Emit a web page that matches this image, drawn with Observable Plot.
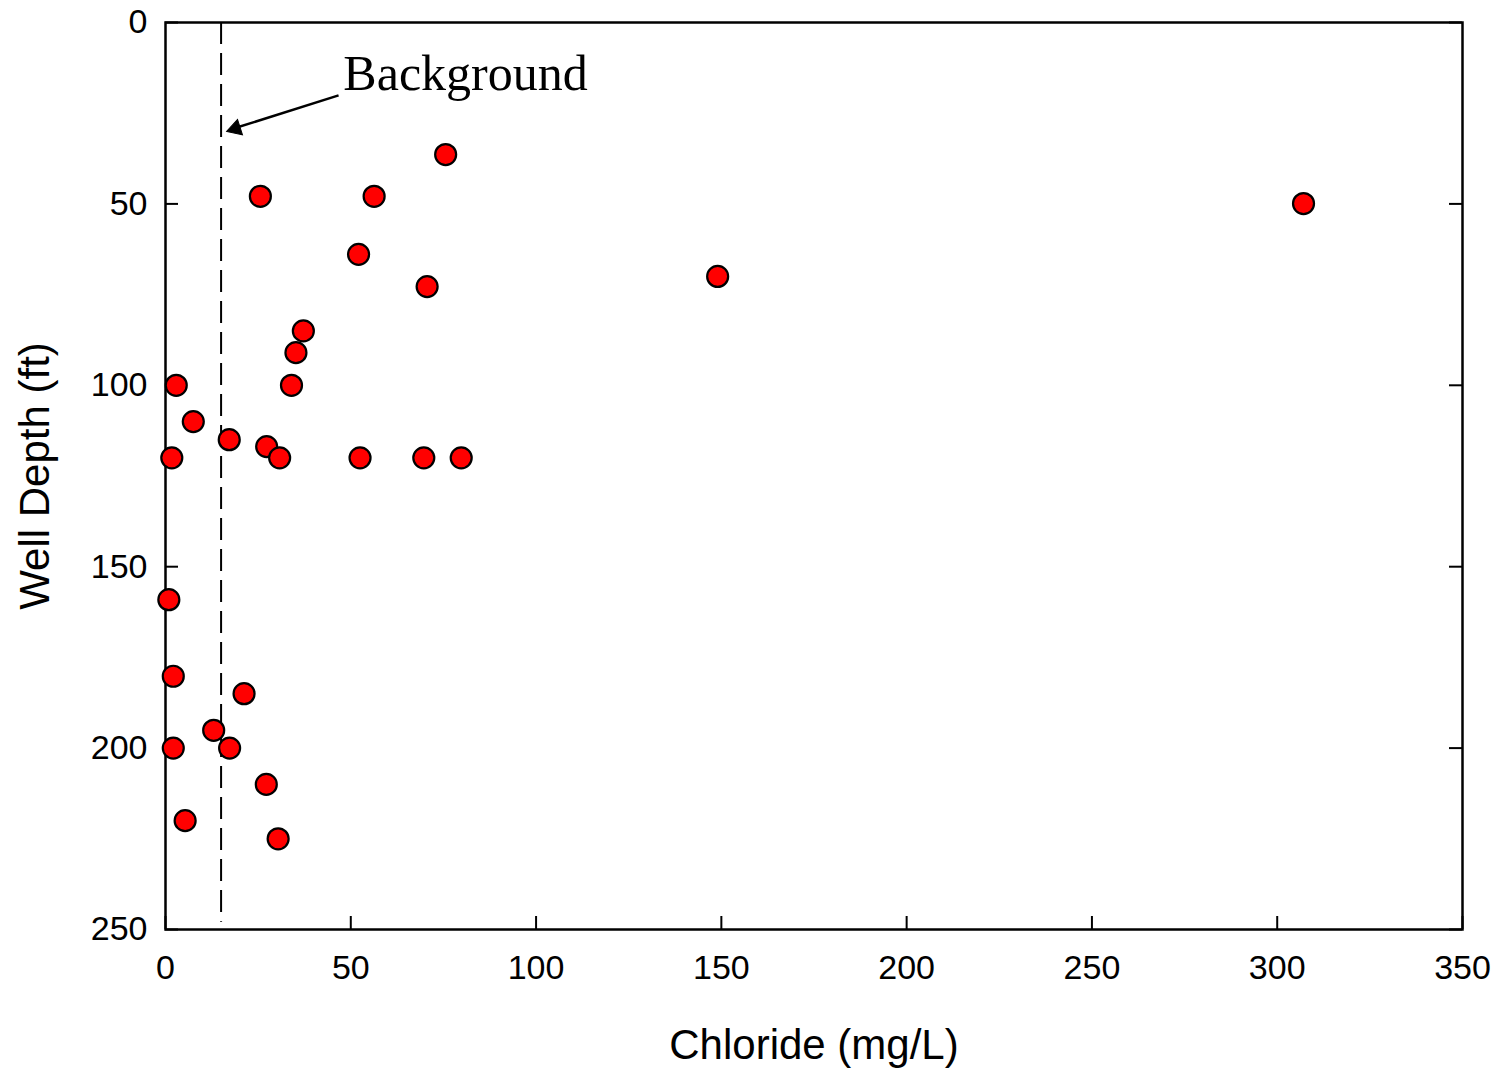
<!DOCTYPE html>
<html>
<head>
<meta charset="utf-8">
<script src="https://cdn.jsdelivr.net/npm/d3@7"></script>
<script src="https://cdn.jsdelivr.net/npm/@observablehq/plot@0.6"></script>
<style>
  html, body { margin: 0; padding: 0; background: #fff; }
  #chart svg { display: block; }
</style>
</head>
<body>
<div id="chart"></div>
<script>
// Data
const chloride = [75.6, 25.6, 56.3, 307.1, 52.1, 149, 70.6, 37.2, 35.2, 34, 2.9, 7.5, 17.2, 27.3, 1.7, 30.8, 52.5, 69.7, 79.8, 0.9, 2.1, 21.2, 13, 2.1, 17.3, 27.2, 5.3, 30.4];
const depth    = [36.4, 47.9, 47.9, 49.9, 63.9, 70, 72.8, 85, 91, 100, 100, 110, 115, 116.9, 120, 120, 120, 120, 120, 159.1, 180.2, 185, 195.1, 200, 200, 210, 220, 225];

const xTicks = [0, 50, 100, 150, 200, 250, 300, 350];
const yTicks = [0, 50, 100, 150, 200, 250];

const backgroundLevel = [15];          // mg/L, dashed reference line
const backgroundDepthRange = [0, 248]; // extent of dashed line
const annotationLabel = ["Background"];
const annotationTextPos = [{x: 48, y: 18.5}];
const annotationArrow = [{x1: 46.7, y1: 20.1, x2: 17.5, y2: 29.5}];

const xLabel = "Chloride (mg/L)";
const yLabel = "Well Depth (ft)";

const points = chloride.map((c, i) => ({chloride: c, depth: depth[i]}));

const W = 1502, H = 1068;
const mL = 165, mR = 40, mT = 22, mB = 139;
const innerW = W - mL - mR, innerH = H - mT - mB;
const tickLen = 13;

const chart = Plot.plot({
  width: W,
  height: H,
  marginLeft: mL,
  marginRight: mR,
  marginTop: mT,
  marginBottom: mB,
  style: {fontFamily: "'Liberation Sans', Arial, sans-serif", background: "#fff", color: "#000"},
  x: {domain: [0, 350], axis: null},
  y: {domain: [0, 250], reverse: true, axis: null},
  marks: [
    Plot.axisX(xTicks, {anchor: "bottom", tickSize: 0, tickPadding: 25, fontSize: 34, label: null}),
    Plot.axisY(yTicks, {anchor: "left", tickSize: 0, tickPadding: 18, fontSize: 34, label: null}),
    // inward ticks
    Plot.tickX(xTicks, {x: d => d, insetTop: innerH - tickLen, stroke: "#000", strokeWidth: 2}),
    Plot.tickY(yTicks, {y: d => d, insetRight: innerW - tickLen, stroke: "#000", strokeWidth: 2}),
    Plot.tickY(yTicks, {y: d => d, insetLeft: innerW - tickLen, stroke: "#000", strokeWidth: 2}),
    Plot.frame({stroke: "#000", strokeWidth: 2.5}),
    // background dashed line
    Plot.ruleX(backgroundLevel, {x: d => d, y1: backgroundDepthRange[0], y2: backgroundDepthRange[1], stroke: "#000", strokeWidth: 2, strokeDasharray: "22,9"}),
    // annotation arrow: shaft + filled head
    Plot.link(annotationArrow, {x1: "x1", y1: "y1", x2: "x2", y2: "y2", stroke: "#000", strokeWidth: 2.5}),
    Plot.dot(annotationArrow, {x: "x2", y: "y2", symbol: "triangle", r: 6, fill: "#000", stroke: "#000", strokeWidth: 1, rotate: 252.2, dx: 5.2, dy: -1}),
    Plot.text(annotationTextPos, {x: "x", y: "y", text: (d, i) => annotationLabel[i], textAnchor: "start", lineAnchor: "bottom", fontFamily: "'Liberation Serif', 'DejaVu Serif', serif", fontSize: 50, fill: "#000"}),
    // data points
    Plot.dot(points, {x: "chloride", y: "depth", r: 10.5, fill: "#ff0000", stroke: "#000", strokeWidth: 2.2, symbol: "circle"}),
    // axis titles
    Plot.text([xLabel], {frameAnchor: "bottom", lineAnchor: "middle", textAnchor: "middle", dy: 116, text: d => d, fontSize: 42, fill: "#000"}),
    Plot.text([yLabel], {frameAnchor: "left", lineAnchor: "middle", textAnchor: "middle", dx: -130, rotate: -90, text: d => d, fontSize: 42, fill: "#000"})
  ]
});

document.getElementById("chart").appendChild(chart);
</script>
</body>
</html>
